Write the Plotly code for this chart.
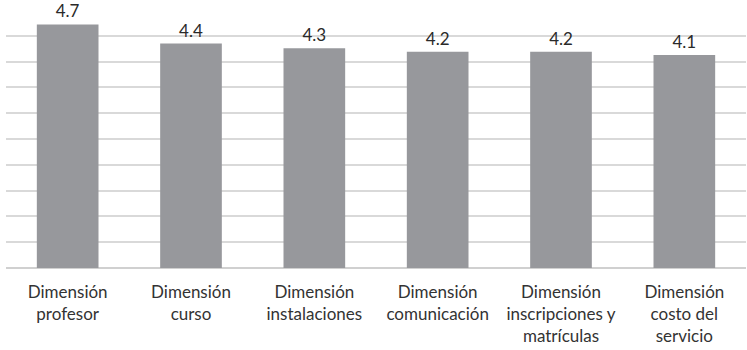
import plotly.graph_objects as go

categories = ["Dimensión<br>profesor", "Dimensión<br>curso", "Dimensión<br>instalaciones",
              "Dimensión<br>comunicación", "Dimensión<br>inscripciones y<br>matrículas",
              "Dimensión<br>costo del<br>servicio"]
values = [4.72, 4.35, 4.26, 4.19, 4.19, 4.13]
labels = ["4.7", "4.4", "4.3", "4.2", "4.2", "4.1"]

font_family = "Lato"

fig = go.Figure(go.Bar(
    x=categories, y=values, text=labels, textposition="outside",
    marker=dict(color="#97989c", line=dict(width=0)),
    textfont=dict(family=font_family, size=17, color="#2a2a2a"),
    cliponaxis=False,
))

fig.update_layout(
    width=747, height=350,
    margin=dict(l=6, r=1, t=10, b=82, autoexpand=False),
    plot_bgcolor="white", paper_bgcolor="white",
    bargap=0.5,
    showlegend=False,
    font=dict(family=font_family, size=17, color="#333333"),
)
fig.update_yaxes(range=[0, 5], dtick=0.5, showticklabels=False,
                 showgrid=True, gridcolor="#d9d9d9", gridwidth=1.5,
                 zeroline=True, zerolinecolor="#d0d0d0", zerolinewidth=1.5)
fig.update_xaxes(showgrid=False, tickfont=dict(family=font_family, size=17, color="#333333"),
                 ticks="", ticklabelstandoff=12, automargin=False)

fig.write_html("out.html")
